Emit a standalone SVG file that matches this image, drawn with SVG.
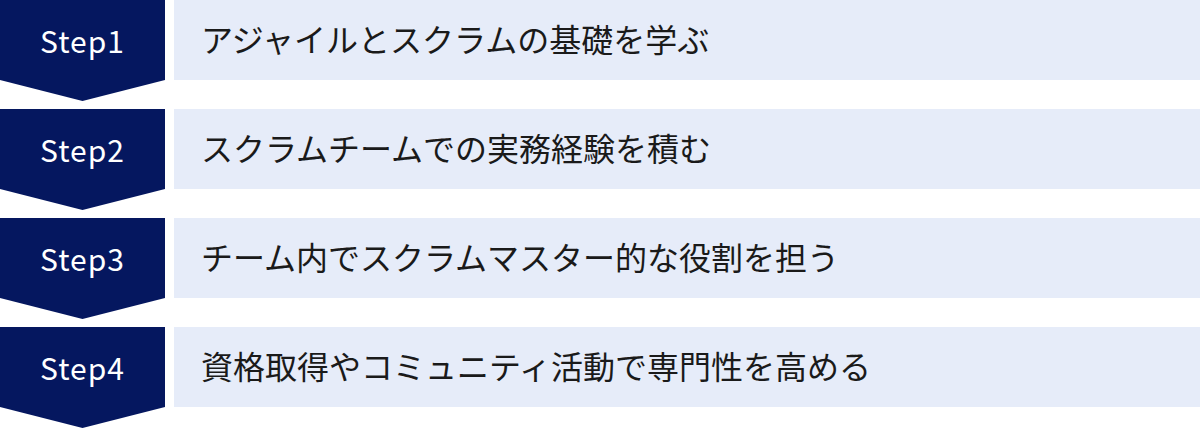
<svg xmlns="http://www.w3.org/2000/svg" width="1200" height="429" viewBox="0 0 1200 429">
<style>
.chev{fill:#05175f}
.box{fill:#e6ecf9}
.step{font-family:"Noto Sans CJK JP","Noto Sans",sans-serif;font-size:30px;letter-spacing:1px;fill:#ffffff;text-anchor:middle}
.lbl{font-family:"Noto Sans CJK JP","Noto Sans",sans-serif;font-size:32px;fill:#1a1a1a}
</style>
<rect width="1200" height="429" fill="#ffffff"/>
<g id="step1">
<polygon class="chev" points="0,0 165,0 165,80 82.5,101 0,80"/>
<text class="step" x="82.5" y="53">Step1</text>
<rect class="box" x="174" y="0" width="1026" height="80"/>
<text class="lbl" x="201" y="52">アジャイルとスクラムの基礎を学ぶ</text>
</g>
<g id="step2">
<polygon class="chev" points="0,109 165,109 165,189 82.5,210 0,189"/>
<text class="step" x="82.5" y="162">Step2</text>
<rect class="box" x="174" y="109" width="1026" height="80"/>
<text class="lbl" x="201" y="161">スクラムチームでの実務経験を積む</text>
</g>
<g id="step3">
<polygon class="chev" points="0,218 165,218 165,298 82.5,319 0,298"/>
<text class="step" x="82.5" y="271">Step3</text>
<rect class="box" x="174" y="218" width="1026" height="80"/>
<text class="lbl" x="201" y="270">チーム内でスクラムマスター的な役割を担う</text>
</g>
<g id="step4">
<polygon class="chev" points="0,327 165,327 165,407 82.5,428 0,407"/>
<text class="step" x="82.5" y="380">Step4</text>
<rect class="box" x="174" y="327" width="1026" height="80"/>
<text class="lbl" x="201" y="379">資格取得やコミュニティ活動で専門性を高める</text>
</g>
<g id="connectors"></g>
</svg>
